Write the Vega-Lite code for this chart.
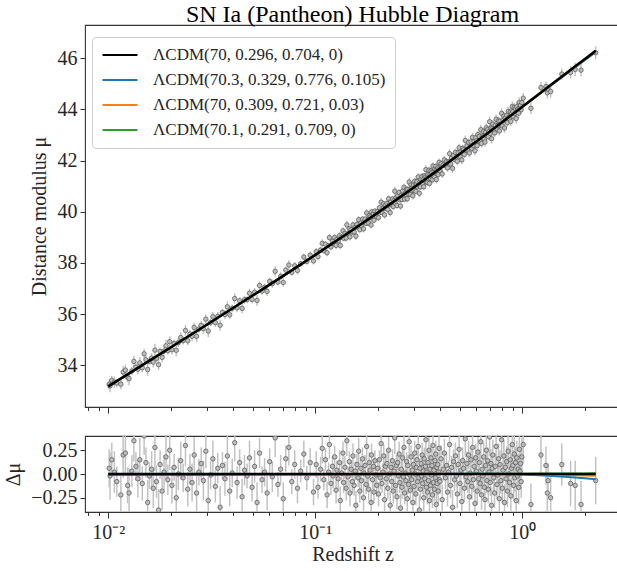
{
"$schema":"https://vega.github.io/schema/vega-lite/v6.json",
"background":"white",
"padding":{"left":3,"top":2,"right":0,"bottom":5},
"spacing":20,
"config":{
"font":"Liberation Serif",
"view":{"stroke":"#333333","strokeWidth":1.1},
"style":{"guide-label":{"font":"Liberation Serif"},"guide-title":{"font":"Liberation Serif"}},
"axis":{"labelFont":"Liberation Serif","titleFont":"Liberation Serif","labelFontSize":20,"titleFontSize":20,"labelColor":"#262626","titleColor":"#262626","titleFontWeight":"normal","tickColor":"#333333","domain":false,"grid":false,"tickSize":5,"labelPadding":3,"labelFlush":false,"labelOverlap":false}
},
"resolve":{"legend":{"color":"independent"}},
"datasets":{
"sn":[
{"z":0.0101,"m":33.257,"r":0.06,"e":0.2},{"z":0.0102,"m":33.199,"r":-0.02,"e":0.25},{"z":0.0104,"m":33.411,"r":0.15,"e":0.18},{"z":0.0107,"m":33.343,"r":0.02,"e":0.22},{"z":0.011,"m":33.304,"r":-0.08,"e":0.16},{"z":0.0115,"m":33.261,"r":-0.22,"e":0.2},{"z":0.0118,"m":33.738,"r":0.2,"e":0.24},{"z":0.0121,"m":33.813,"r":0.22,"e":0.21},{"z":0.0124,"m":33.527,"r":-0.12,"e":0.19},{"z":0.0126,"m":33.482,"r":-0.2,"e":0.26},
{"z":0.013,"m":33.78,"r":0.03,"e":0.17},{"z":0.0133,"m":34.15,"r":0.35,"e":0.22},{"z":0.0136,"m":33.929,"r":0.08,"e":0.15},{"z":0.0139,"m":33.847,"r":-0.05,"e":0.2},{"z":0.0142,"m":34.094,"r":0.15,"e":0.23},{"z":0.0146,"m":33.905,"r":-0.1,"e":0.18},{"z":0.0149,"m":34.45,"r":0.4,"e":0.2},{"z":0.0152,"m":34.213,"r":0.12,"e":0.16},{"z":0.0155,"m":33.836,"r":-0.3,"e":0.24},{"z":0.0158,"m":34.158,"r":-0.02,"e":0.14},
{"z":0.0162,"m":34.283,"r":0.05,"e":0.19},{"z":0.0165,"m":34.124,"r":-0.15,"e":0.21},{"z":0.0168,"m":34.593,"r":0.28,"e":0.25},{"z":0.0171,"m":34.272,"r":-0.08,"e":0.17},{"z":0.0175,"m":34.023,"r":-0.38,"e":0.22},{"z":0.0178,"m":34.54,"r":0.1,"e":0.15},{"z":0.0182,"m":34.309,"r":-0.18,"e":0.2},{"z":0.0186,"m":34.557,"r":0.02,"e":0.18},{"z":0.019,"m":34.764,"r":0.18,"e":0.23},{"z":0.0194,"m":34.57,"r":-0.06,"e":0.16},
{"z":0.0198,"m":34.925,"r":0.25,"e":0.21},{"z":0.0203,"m":34.61,"r":-0.12,"e":0.19},{"z":0.0208,"m":34.854,"r":0.07,"e":0.14},{"z":0.0213,"m":34.586,"r":-0.25,"e":0.24},{"z":0.0218,"m":34.887,"r":0.0,"e":0.17},{"z":0.0224,"m":35.087,"r":0.14,"e":0.2},{"z":0.023,"m":34.966,"r":-0.04,"e":0.15},{"z":0.0236,"m":35.362,"r":0.3,"e":0.22},{"z":0.0242,"m":34.958,"r":-0.16,"e":0.18},{"z":0.0248,"m":35.222,"r":0.05,"e":0.16},
{"z":0.0254,"m":35.135,"r":-0.09,"e":0.2},{"z":0.026,"m":35.477,"r":0.2,"e":0.19},{"z":0.0267,"m":35.135,"r":-0.2,"e":0.23},{"z":0.0274,"m":35.413,"r":0.02,"e":0.14},{"z":0.0281,"m":35.559,"r":0.11,"e":0.17},{"z":0.0288,"m":35.433,"r":-0.07,"e":0.21},{"z":0.0296,"m":35.804,"r":0.24,"e":0.18},{"z":0.0304,"m":35.343,"r":-0.28,"e":0.25},{"z":0.0312,"m":35.671,"r":-0.01,"e":0.15},{"z":0.032,"m":35.897,"r":0.16,"e":0.19},
{"z":0.0329,"m":35.669,"r":-0.13,"e":0.17},{"z":0.0338,"m":35.919,"r":0.06,"e":0.16},{"z":0.0347,"m":35.567,"r":-0.35,"e":0.22},{"z":0.0356,"m":36.065,"r":0.09,"e":0.14},{"z":0.0366,"m":35.986,"r":-0.05,"e":0.18},{"z":0.0376,"m":36.286,"r":0.19,"e":0.21},{"z":0.0386,"m":35.975,"r":-0.18,"e":0.16},{"z":0.0397,"m":36.228,"r":0.01,"e":0.15},{"z":0.0408,"m":36.609,"r":0.33,"e":0.2},{"z":0.0419,"m":36.248,"r":-0.09,"e":0.17},
{"z":0.0431,"m":36.522,"r":0.12,"e":0.14},{"z":0.0443,"m":36.223,"r":-0.24,"e":0.19},{"z":0.0455,"m":36.563,"r":0.04,"e":0.16},{"z":0.0468,"m":36.566,"r":-0.02,"e":0.13},{"z":0.0481,"m":36.818,"r":0.17,"e":0.18},{"z":0.0495,"m":36.573,"r":-0.14,"e":0.15},{"z":0.0509,"m":36.855,"r":0.08,"e":0.17},{"z":0.0523,"m":36.536,"r":-0.3,"e":0.21},{"z":0.0538,"m":37.12,"r":0.22,"e":0.16},{"z":0.0553,"m":36.902,"r":-0.06,"e":0.14},
{"z":0.0569,"m":37.047,"r":0.02,"e":0.15},{"z":0.0585,"m":36.889,"r":-0.2,"e":0.18},{"z":0.0602,"m":37.284,"r":0.13,"e":0.14},{"z":0.062,"m":37.191,"r":-0.03,"e":0.16},{"z":0.064,"m":37.673,"r":0.38,"e":0.2},{"z":0.066,"m":37.253,"r":-0.11,"e":0.13},{"z":0.068,"m":37.481,"r":0.05,"e":0.15},{"z":0.07,"m":37.237,"r":-0.26,"e":0.17},{"z":0.072,"m":37.721,"r":0.16,"e":0.14},{"z":0.0745,"m":37.919,"r":0.28,"e":0.19},
{"z":0.077,"m":37.634,"r":-0.08,"e":0.13},{"z":0.0795,"m":37.888,"r":0.1,"e":0.15},{"z":0.082,"m":37.708,"r":-0.15,"e":0.16},{"z":0.085,"m":37.971,"r":0.03,"e":0.12},{"z":0.088,"m":38.231,"r":0.21,"e":0.14},{"z":0.091,"m":38.058,"r":-0.04,"e":0.13},{"z":0.0945,"m":38.305,"r":0.12,"e":0.15},{"z":0.098,"m":38.079,"r":-0.19,"e":0.14},
{"z":0.101,"m":38.44,"r":0.1,"e":0.14},{"z":0.103,"m":38.246,"r":-0.14,"e":0.12},{"z":0.106,"m":38.502,"r":0.05,"e":0.13},{"z":0.108,"m":38.766,"r":0.27,"e":0.16},{"z":0.11,"m":38.478,"r":-0.06,"e":0.11},{"z":0.112,"m":38.73,"r":0.15,"e":0.12},{"z":0.114,"m":38.401,"r":-0.22,"e":0.14},{"z":0.116,"m":38.682,"r":0.02,"e":0.1},{"z":0.117,"m":38.992,"r":0.31,"e":0.15},{"z":0.119,"m":38.622,"r":-0.1,"e":0.12},
{"z":0.121,"m":38.841,"r":0.08,"e":0.11},{"z":0.122,"m":38.76,"r":-0.02,"e":0.13},{"z":0.124,"m":38.998,"r":0.18,"e":0.12},{"z":0.126,"m":38.686,"r":-0.17,"e":0.14},{"z":0.127,"m":38.915,"r":0.04,"e":0.1},{"z":0.129,"m":38.861,"r":-0.05,"e":0.11},{"z":0.131,"m":39.067,"r":0.12,"e":0.13},{"z":0.132,"m":38.685,"r":-0.28,"e":0.15},{"z":0.134,"m":39.001,"r":0.01,"e":0.1},{"z":0.136,"m":39.256,"r":0.22,"e":0.12},
{"z":0.137,"m":38.963,"r":-0.09,"e":0.11},{"z":0.139,"m":39.157,"r":0.07,"e":0.12},{"z":0.141,"m":38.971,"r":-0.15,"e":0.13},{"z":0.142,"m":39.488,"r":0.35,"e":0.16},{"z":0.144,"m":39.141,"r":-0.03,"e":0.1},{"z":0.146,"m":39.333,"r":0.13,"e":0.11},{"z":0.147,"m":39.02,"r":-0.2,"e":0.14},{"z":0.149,"m":39.302,"r":0.05,"e":0.09},{"z":0.151,"m":39.204,"r":-0.08,"e":0.12},{"z":0.152,"m":39.489,"r":0.19,"e":0.13},
{"z":0.154,"m":39.21,"r":-0.12,"e":0.11},{"z":0.156,"m":39.391,"r":0.03,"e":0.1},{"z":0.157,"m":39.046,"r":-0.33,"e":0.15},{"z":0.159,"m":39.507,"r":0.1,"e":0.11},{"z":0.161,"m":39.396,"r":-0.04,"e":0.1},{"z":0.162,"m":39.691,"r":0.24,"e":0.14},{"z":0.164,"m":39.3,"r":-0.18,"e":0.12},{"z":0.166,"m":39.569,"r":0.06,"e":0.09},{"z":0.167,"m":39.454,"r":-0.07,"e":0.11},{"z":0.169,"m":39.712,"r":0.16,"e":0.12},
{"z":0.171,"m":39.331,"r":-0.25,"e":0.14},{"z":0.172,"m":39.595,"r":0.01,"e":0.1},{"z":0.174,"m":39.712,"r":0.09,"e":0.11},{"z":0.176,"m":39.54,"r":-0.11,"e":0.1},{"z":0.177,"m":39.953,"r":0.29,"e":0.15},{"z":0.179,"m":39.67,"r":-0.02,"e":0.09},{"z":0.181,"m":39.557,"r":-0.16,"e":0.12},{"z":0.182,"m":39.851,"r":0.12,"e":0.11},{"z":0.184,"m":39.797,"r":0.04,"e":0.1},{"z":0.186,"m":39.483,"r":-0.3,"e":0.14},
{"z":0.187,"m":39.996,"r":0.2,"e":0.12},{"z":0.189,"m":39.761,"r":-0.06,"e":0.1},{"z":0.191,"m":39.927,"r":0.08,"e":0.09},{"z":0.192,"m":39.67,"r":-0.19,"e":0.12},{"z":0.194,"m":40.025,"r":0.14,"e":0.11},{"z":0.196,"m":39.899,"r":-0.01,"e":0.1},{"z":0.198,"m":39.814,"r":-0.12,"e":0.12},
{"z":0.2,"m":40.018,"r":0.06,"e":0.11},{"z":0.202,"m":39.772,"r":-0.21,"e":0.13},{"z":0.204,"m":40.156,"r":0.15,"e":0.1},{"z":0.206,"m":39.991,"r":-0.04,"e":0.12},{"z":0.208,"m":40.375,"r":0.32,"e":0.16},{"z":0.21,"m":39.977,"r":-0.1,"e":0.1},{"z":0.212,"m":40.12,"r":0.02,"e":0.09},{"z":0.214,"m":40.313,"r":0.19,"e":0.12},{"z":0.216,"m":39.877,"r":-0.27,"e":0.14},{"z":0.218,"m":40.25,"r":0.08,"e":0.11},
{"z":0.22,"m":40.14,"r":-0.05,"e":0.1},{"z":0.222,"m":40.323,"r":0.11,"e":0.12},{"z":0.224,"m":40.085,"r":-0.15,"e":0.11},{"z":0.226,"m":40.507,"r":0.25,"e":0.14},{"z":0.228,"m":40.279,"r":0.0,"e":0.09},{"z":0.23,"m":39.969,"r":-0.33,"e":0.15},{"z":0.232,"m":40.391,"r":0.07,"e":0.1},{"z":0.234,"m":40.262,"r":-0.08,"e":0.11},{"z":0.236,"m":40.503,"r":0.14,"e":0.12},{"z":0.238,"m":40.205,"r":-0.18,"e":0.13},
{"z":0.24,"m":40.434,"r":0.03,"e":0.09},{"z":0.242,"m":40.804,"r":0.38,"e":0.17},{"z":0.244,"m":40.325,"r":-0.12,"e":0.1},{"z":0.246,"m":40.556,"r":0.09,"e":0.11},{"z":0.248,"m":40.246,"r":-0.24,"e":0.13},{"z":0.25,"m":40.624,"r":0.12,"e":0.1},{"z":0.252,"m":40.504,"r":-0.02,"e":0.09},{"z":0.254,"m":40.754,"r":0.21,"e":0.13},{"z":0.256,"m":40.474,"r":-0.09,"e":0.11},{"z":0.258,"m":40.224,"r":-0.36,"e":0.15},
{"z":0.26,"m":40.651,"r":0.05,"e":0.1},{"z":0.262,"m":40.48,"r":-0.14,"e":0.12},{"z":0.264,"m":40.81,"r":0.17,"e":0.11},{"z":0.266,"m":40.629,"r":-0.03,"e":0.09},{"z":0.268,"m":40.958,"r":0.28,"e":0.14},{"z":0.27,"m":40.495,"r":-0.2,"e":0.12},{"z":0.272,"m":40.723,"r":0.01,"e":0.1},{"z":0.274,"m":40.662,"r":-0.07,"e":0.11},{"z":0.276,"m":40.88,"r":0.13,"e":0.1},{"z":0.278,"m":40.508,"r":-0.26,"e":0.14},
{"z":0.28,"m":40.875,"r":0.09,"e":0.11},{"z":0.282,"m":40.693,"r":-0.11,"e":0.1},{"z":0.284,"m":41.161,"r":0.34,"e":0.16},{"z":0.286,"m":40.829,"r":-0.01,"e":0.09},{"z":0.288,"m":40.686,"r":-0.17,"e":0.12},{"z":0.29,"m":41.053,"r":0.18,"e":0.12},{"z":0.292,"m":40.83,"r":-0.06,"e":0.1},{"z":0.294,"m":40.947,"r":0.04,"e":0.09},{"z":0.296,"m":40.624,"r":-0.3,"e":0.15},{"z":0.298,"m":41.041,"r":0.1,"e":0.11},
{"z":0.3,"m":40.827,"r":-0.13,"e":0.11},{"z":0.302,"m":41.194,"r":0.22,"e":0.13},{"z":0.304,"m":40.991,"r":0.0,"e":0.1},{"z":0.306,"m":40.798,"r":-0.21,"e":0.12},{"z":0.308,"m":41.095,"r":0.07,"e":0.09},{"z":0.31,"m":41.189,"r":0.15,"e":0.12},{"z":0.312,"m":40.976,"r":-0.08,"e":0.1},{"z":0.314,"m":41.362,"r":0.29,"e":0.15},{"z":0.316,"m":41.048,"r":-0.04,"e":0.11},{"z":0.318,"m":40.724,"r":-0.38,"e":0.16},
{"z":0.32,"m":41.179,"r":0.06,"e":0.1},{"z":0.322,"m":40.975,"r":-0.16,"e":0.12},{"z":0.324,"m":41.261,"r":0.11,"e":0.11},{"z":0.326,"m":41.147,"r":-0.02,"e":0.09},{"z":0.328,"m":41.382,"r":0.2,"e":0.13},{"z":0.33,"m":41.097,"r":-0.1,"e":0.11},{"z":0.332,"m":41.242,"r":0.03,"e":0.1},{"z":0.334,"m":40.977,"r":-0.25,"e":0.14},{"z":0.336,"m":41.403,"r":0.16,"e":0.12},{"z":0.338,"m":41.208,"r":-0.05,"e":0.1},
{"z":0.34,"m":41.352,"r":0.08,"e":0.11},{"z":0.342,"m":41.647,"r":0.36,"e":0.17},{"z":0.344,"m":41.162,"r":-0.14,"e":0.12},{"z":0.346,"m":41.337,"r":0.02,"e":0.1},{"z":0.348,"m":41.142,"r":-0.19,"e":0.13},{"z":0.35,"m":41.465,"r":0.12,"e":0.12},{"z":0.352,"m":41.29,"r":-0.07,"e":0.1},{"z":0.354,"m":41.624,"r":0.25,"e":0.14},{"z":0.356,"m":41.109,"r":-0.28,"e":0.15},{"z":0.358,"m":41.454,"r":0.05,"e":0.11},
{"z":0.36,"m":41.297,"r":-0.12,"e":0.12},{"z":0.362,"m":41.601,"r":0.17,"e":0.13},{"z":0.364,"m":41.435,"r":-0.01,"e":0.1},{"z":0.366,"m":41.549,"r":0.09,"e":0.11},{"z":0.368,"m":41.253,"r":-0.22,"e":0.14},{"z":0.37,"m":41.786,"r":0.3,"e":0.15},{"z":0.372,"m":41.41,"r":-0.09,"e":0.11},{"z":0.374,"m":41.554,"r":0.04,"e":0.1},{"z":0.376,"m":41.367,"r":-0.16,"e":0.13},{"z":0.378,"m":41.681,"r":0.14,"e":0.12},
{"z":0.38,"m":41.514,"r":-0.04,"e":0.11},{"z":0.382,"m":41.777,"r":0.21,"e":0.14},{"z":0.384,"m":41.261,"r":-0.32,"e":0.16},{"z":0.386,"m":41.665,"r":0.07,"e":0.11},{"z":0.388,"m":41.508,"r":-0.1,"e":0.12},{"z":0.39,"m":41.72,"r":0.1,"e":0.12},{"z":0.392,"m":41.453,"r":-0.18,"e":0.13},{"z":0.394,"m":41.666,"r":0.02,"e":0.1},{"z":0.396,"m":41.93,"r":0.27,"e":0.15},{"z":0.398,"m":41.613,"r":-0.06,"e":0.11},
{"z":0.4,"m":41.607,"r":-0.08,"e":0.13},{"z":0.405,"m":41.878,"r":0.16,"e":0.14},{"z":0.41,"m":41.48,"r":-0.27,"e":0.16},{"z":0.415,"m":41.831,"r":0.05,"e":0.12},{"z":0.42,"m":42.032,"r":0.22,"e":0.15},{"z":0.425,"m":41.803,"r":-0.04,"e":0.12},{"z":0.43,"m":41.963,"r":0.09,"e":0.13},{"z":0.435,"m":41.714,"r":-0.19,"e":0.15},{"z":0.44,"m":41.952,"r":0.02,"e":0.12},{"z":0.445,"m":42.272,"r":0.31,"e":0.17},
{"z":0.45,"m":41.871,"r":-0.12,"e":0.13},{"z":0.455,"m":42.091,"r":0.07,"e":0.12},{"z":0.46,"m":41.698,"r":-0.35,"e":0.18},{"z":0.465,"m":42.206,"r":0.13,"e":0.13},{"z":0.47,"m":42.044,"r":-0.06,"e":0.12},{"z":0.475,"m":42.322,"r":0.19,"e":0.14},{"z":0.48,"m":42.138,"r":-0.02,"e":0.12},{"z":0.485,"m":41.975,"r":-0.21,"e":0.15},{"z":0.49,"m":42.312,"r":0.1,"e":0.13},{"z":0.495,"m":42.499,"r":0.26,"e":0.16},
{"z":0.5,"m":42.164,"r":-0.1,"e":0.13},{"z":0.505,"m":42.33,"r":0.04,"e":0.12},{"z":0.51,"m":42.026,"r":-0.29,"e":0.17},{"z":0.515,"m":42.482,"r":0.14,"e":0.14},{"z":0.52,"m":42.427,"r":0.06,"e":0.12},{"z":0.525,"m":42.242,"r":-0.15,"e":0.14},{"z":0.53,"m":42.787,"r":0.37,"e":0.19},{"z":0.535,"m":42.412,"r":-0.03,"e":0.12},{"z":0.54,"m":42.575,"r":0.11,"e":0.13},{"z":0.545,"m":42.409,"r":-0.08,"e":0.12},
{"z":0.55,"m":42.713,"r":0.2,"e":0.15},{"z":0.555,"m":42.297,"r":-0.24,"e":0.16},{"z":0.56,"m":42.561,"r":0.01,"e":0.12},{"z":0.565,"m":42.734,"r":0.15,"e":0.14},{"z":0.57,"m":42.477,"r":-0.13,"e":0.14},{"z":0.575,"m":42.91,"r":0.28,"e":0.17},{"z":0.58,"m":42.593,"r":-0.06,"e":0.13},{"z":0.585,"m":42.756,"r":0.08,"e":0.12},{"z":0.59,"m":42.388,"r":-0.31,"e":0.18},{"z":0.595,"m":42.891,"r":0.17,"e":0.15},
{"z":0.6,"m":42.773,"r":0.03,"e":0.12},{"z":0.605,"m":42.584,"r":-0.18,"e":0.15},{"z":0.61,"m":43.016,"r":0.23,"e":0.16},{"z":0.615,"m":42.757,"r":-0.05,"e":0.13},{"z":0.62,"m":42.949,"r":0.12,"e":0.14},{"z":0.625,"m":42.75,"r":-0.1,"e":0.13},{"z":0.63,"m":43.211,"r":0.34,"e":0.19},{"z":0.635,"m":42.672,"r":-0.22,"e":0.16},{"z":0.64,"m":42.963,"r":0.05,"e":0.13},{"z":0.645,"m":42.914,"r":-0.02,"e":0.12},
{"z":0.65,"m":43.134,"r":0.18,"e":0.15},{"z":0.655,"m":42.835,"r":-0.14,"e":0.14},{"z":0.66,"m":42.725,"r":-0.27,"e":0.17},{"z":0.665,"m":43.104,"r":0.09,"e":0.13},{"z":0.67,"m":43.284,"r":0.25,"e":0.17},{"z":0.675,"m":42.984,"r":-0.07,"e":0.13},{"z":0.68,"m":43.214,"r":0.14,"e":0.14},{"z":0.685,"m":42.933,"r":-0.16,"e":0.15},{"z":0.69,"m":43.133,"r":0.02,"e":0.12},{"z":0.695,"m":43.522,"r":0.39,"e":0.2},
{"z":0.7,"m":43.061,"r":-0.09,"e":0.14},{"z":0.705,"m":43.279,"r":0.11,"e":0.15},{"z":0.71,"m":42.858,"r":-0.33,"e":0.19},{"z":0.715,"m":43.266,"r":0.06,"e":0.13},{"z":0.72,"m":43.426,"r":0.2,"e":0.16},{"z":0.727,"m":43.211,"r":-0.04,"e":0.14},{"z":0.734,"m":43.076,"r":-0.2,"e":0.16},{"z":0.74,"m":43.379,"r":0.08,"e":0.14},{"z":0.747,"m":43.614,"r":0.29,"e":0.18},{"z":0.754,"m":43.239,"r":-0.11,"e":0.15},
{"z":0.76,"m":43.36,"r":-0.01,"e":0.13},{"z":0.767,"m":43.554,"r":0.16,"e":0.16},{"z":0.774,"m":43.159,"r":-0.26,"e":0.18},{"z":0.78,"m":43.539,"r":0.1,"e":0.15},{"z":0.787,"m":43.393,"r":-0.07,"e":0.14},{"z":0.794,"m":43.847,"r":0.36,"e":0.2},{"z":0.8,"m":43.357,"r":-0.15,"e":0.16},{"z":0.807,"m":43.57,"r":0.04,"e":0.14},{"z":0.814,"m":43.743,"r":0.19,"e":0.17},{"z":0.82,"m":43.273,"r":-0.3,"e":0.19},
{"z":0.827,"m":43.665,"r":0.07,"e":0.15},{"z":0.834,"m":43.568,"r":-0.05,"e":0.14},{"z":0.84,"m":43.767,"r":0.13,"e":0.16},{"z":0.847,"m":43.48,"r":-0.18,"e":0.17},{"z":0.854,"m":43.922,"r":0.24,"e":0.18},{"z":0.86,"m":43.7,"r":0.0,"e":0.14},{"z":0.867,"m":43.632,"r":-0.09,"e":0.15},{"z":0.874,"m":43.894,"r":0.15,"e":0.17},{"z":0.88,"m":43.532,"r":-0.23,"e":0.18},{"z":0.887,"m":43.843,"r":0.06,"e":0.15},
{"z":0.894,"m":44.114,"r":0.31,"e":0.2},{"z":0.9,"m":43.913,"r":0.09,"e":0.16},{"z":0.907,"m":43.723,"r":-0.12,"e":0.16},{"z":0.914,"m":44.073,"r":0.21,"e":0.19},{"z":0.92,"m":43.841,"r":-0.04,"e":0.15},{"z":0.927,"m":44.021,"r":0.12,"e":0.17},{"z":0.934,"m":43.642,"r":-0.28,"e":0.2},{"z":0.94,"m":44.108,"r":0.17,"e":0.18},{"z":0.947,"m":43.937,"r":-0.02,"e":0.15},{"z":0.954,"m":44.027,"r":0.05,"e":0.16},
{"z":0.96,"m":43.855,"r":-0.14,"e":0.18},{"z":0.967,"m":44.275,"r":0.26,"e":0.2},{"z":0.974,"m":44.064,"r":0.03,"e":0.16},{"z":0.98,"m":44.161,"r":0.11,"e":0.18},{"z":0.987,"m":43.99,"r":-0.08,"e":0.17},{"z":0.994,"m":44.269,"r":0.18,"e":0.2},
{"z":1.01,"m":44.441,"r":0.31,"e":0.2},{"z":1.1,"m":44.042,"r":-0.32,"e":0.22},{"z":1.23,"m":44.858,"r":0.2,"e":0.22},{"z":1.3,"m":44.896,"r":0.09,"e":0.2},{"z":1.32,"m":44.648,"r":-0.2,"e":0.22},{"z":1.33,"m":44.798,"r":-0.07,"e":0.18},{"z":1.37,"m":44.7,"r":-0.25,"e":0.24},{"z":1.55,"m":45.382,"r":0.1,"e":0.22},{"z":1.71,"m":45.445,"r":-0.1,"e":0.24},{"z":1.8,"m":45.564,"r":-0.12,"e":0.26},{"z":1.92,"m":45.536,"r":-0.32,"e":0.25},{"z":2.26,"m":46.219,"r":-0.07,"e":0.25}
],
"models":[
{"model":"ΛCDM(70, 0.296, 0.704, 0)","z":0.01,"m":33.175,"r":0},{"model":"ΛCDM(70, 0.296, 0.704, 0)","z":0.015,"m":34.064,"r":0},{"model":"ΛCDM(70, 0.296, 0.704, 0)","z":0.02,"m":34.697,"r":0},{"model":"ΛCDM(70, 0.296, 0.704, 0)","z":0.03,"m":35.594,"r":0},{"model":"ΛCDM(70, 0.296, 0.704, 0)","z":0.05,"m":36.735,"r":0},{"model":"ΛCDM(70, 0.296, 0.704, 0)","z":0.07,"m":37.496,"r":0},{"model":"ΛCDM(70, 0.296, 0.704, 0)","z":0.1,"m":38.316,"r":0},{"model":"ΛCDM(70, 0.296, 0.704, 0)","z":0.15,"m":39.267,"r":0},{"model":"ΛCDM(70, 0.296, 0.704, 0)","z":0.2,"m":39.958,"r":0},{"model":"ΛCDM(70, 0.296, 0.704, 0)","z":0.3,"m":40.957,"r":0},{"model":"ΛCDM(70, 0.296, 0.704, 0)","z":0.4,"m":41.687,"r":0},
{"model":"ΛCDM(70, 0.296, 0.704, 0)","z":0.5,"m":42.264,"r":0},{"model":"ΛCDM(70, 0.296, 0.704, 0)","z":0.6,"m":42.743,"r":0},{"model":"ΛCDM(70, 0.296, 0.704, 0)","z":0.7,"m":43.151,"r":0},{"model":"ΛCDM(70, 0.296, 0.704, 0)","z":0.8,"m":43.507,"r":0},{"model":"ΛCDM(70, 0.296, 0.704, 0)","z":1.0,"m":44.105,"r":0},{"model":"ΛCDM(70, 0.296, 0.704, 0)","z":1.2,"m":44.596,"r":0},{"model":"ΛCDM(70, 0.296, 0.704, 0)","z":1.4,"m":45.01,"r":0},{"model":"ΛCDM(70, 0.296, 0.704, 0)","z":1.6,"m":45.369,"r":0},{"model":"ΛCDM(70, 0.296, 0.704, 0)","z":1.8,"m":45.684,"r":0},{"model":"ΛCDM(70, 0.296, 0.704, 0)","z":2.0,"m":45.965,"r":0},{"model":"ΛCDM(70, 0.296, 0.704, 0)","z":2.26,"m":46.289,"r":0},
{"model":"ΛCDM(70.3, 0.329, 0.776, 0.105)","z":0.01,"m":33.166,"r":-0.0087},{"model":"ΛCDM(70.3, 0.329, 0.776, 0.105)","z":0.015,"m":34.056,"r":-0.0084},{"model":"ΛCDM(70.3, 0.329, 0.776, 0.105)","z":0.02,"m":34.689,"r":-0.0081},{"model":"ΛCDM(70.3, 0.329, 0.776, 0.105)","z":0.03,"m":35.586,"r":-0.0075},{"model":"ΛCDM(70.3, 0.329, 0.776, 0.105)","z":0.05,"m":36.729,"r":-0.0063},{"model":"ΛCDM(70.3, 0.329, 0.776, 0.105)","z":0.07,"m":37.491,"r":-0.0051},{"model":"ΛCDM(70.3, 0.329, 0.776, 0.105)","z":0.1,"m":38.312,"r":-0.004},{"model":"ΛCDM(70.3, 0.329, 0.776, 0.105)","z":0.15,"m":39.265,"r":-0.002},{"model":"ΛCDM(70.3, 0.329, 0.776, 0.105)","z":0.2,"m":39.958,"r":-0.0001},{"model":"ΛCDM(70.3, 0.329, 0.776, 0.105)","z":0.3,"m":40.959,"r":0.0024},{"model":"ΛCDM(70.3, 0.329, 0.776, 0.105)","z":0.4,"m":41.691,"r":0.0037},
{"model":"ΛCDM(70.3, 0.329, 0.776, 0.105)","z":0.5,"m":42.268,"r":0.0039},{"model":"ΛCDM(70.3, 0.329, 0.776, 0.105)","z":0.6,"m":42.746,"r":0.0031},{"model":"ΛCDM(70.3, 0.329, 0.776, 0.105)","z":0.7,"m":43.153,"r":0.0017},{"model":"ΛCDM(70.3, 0.329, 0.776, 0.105)","z":0.8,"m":43.506,"r":-0.0005},{"model":"ΛCDM(70.3, 0.329, 0.776, 0.105)","z":1.0,"m":44.099,"r":-0.0061},{"model":"ΛCDM(70.3, 0.329, 0.776, 0.105)","z":1.2,"m":44.583,"r":-0.013},{"model":"ΛCDM(70.3, 0.329, 0.776, 0.105)","z":1.4,"m":44.989,"r":-0.0206},{"model":"ΛCDM(70.3, 0.329, 0.776, 0.105)","z":1.6,"m":45.341,"r":-0.0284},{"model":"ΛCDM(70.3, 0.329, 0.776, 0.105)","z":1.8,"m":45.648,"r":-0.0364},{"model":"ΛCDM(70.3, 0.329, 0.776, 0.105)","z":2.0,"m":45.921,"r":-0.0442},{"model":"ΛCDM(70.3, 0.329, 0.776, 0.105)","z":2.26,"m":46.235,"r":-0.0541},
{"model":"ΛCDM(70, 0.309, 0.721, 0.03)","z":0.01,"m":33.175,"r":0.0001},{"model":"ΛCDM(70, 0.309, 0.721, 0.03)","z":0.015,"m":34.064,"r":0.0002},{"model":"ΛCDM(70, 0.309, 0.721, 0.03)","z":0.02,"m":34.697,"r":0.0002},{"model":"ΛCDM(70, 0.309, 0.721, 0.03)","z":0.03,"m":35.594,"r":0.0003},{"model":"ΛCDM(70, 0.309, 0.721, 0.03)","z":0.05,"m":36.736,"r":0.0006},{"model":"ΛCDM(70, 0.309, 0.721, 0.03)","z":0.07,"m":37.497,"r":0.0008},{"model":"ΛCDM(70, 0.309, 0.721, 0.03)","z":0.1,"m":38.317,"r":0.0009},{"model":"ΛCDM(70, 0.309, 0.721, 0.03)","z":0.15,"m":39.268,"r":0.0012},{"model":"ΛCDM(70, 0.309, 0.721, 0.03)","z":0.2,"m":39.96,"r":0.0015},{"model":"ΛCDM(70, 0.309, 0.721, 0.03)","z":0.3,"m":40.959,"r":0.0016},{"model":"ΛCDM(70, 0.309, 0.721, 0.03)","z":0.4,"m":41.689,"r":0.0015},
{"model":"ΛCDM(70, 0.309, 0.721, 0.03)","z":0.5,"m":42.265,"r":0.001},{"model":"ΛCDM(70, 0.309, 0.721, 0.03)","z":0.6,"m":42.743,"r":0.0004},{"model":"ΛCDM(70, 0.309, 0.721, 0.03)","z":0.7,"m":43.151,"r":-0.0005},{"model":"ΛCDM(70, 0.309, 0.721, 0.03)","z":0.8,"m":43.506,"r":-0.0014},{"model":"ΛCDM(70, 0.309, 0.721, 0.03)","z":1.0,"m":44.101,"r":-0.0037},{"model":"ΛCDM(70, 0.309, 0.721, 0.03)","z":1.2,"m":44.59,"r":-0.0062},{"model":"ΛCDM(70, 0.309, 0.721, 0.03)","z":1.4,"m":45.001,"r":-0.0087},{"model":"ΛCDM(70, 0.309, 0.721, 0.03)","z":1.6,"m":45.358,"r":-0.0113},{"model":"ΛCDM(70, 0.309, 0.721, 0.03)","z":1.8,"m":45.67,"r":-0.0139},{"model":"ΛCDM(70, 0.309, 0.721, 0.03)","z":2.0,"m":45.949,"r":-0.0164},{"model":"ΛCDM(70, 0.309, 0.721, 0.03)","z":2.26,"m":46.27,"r":-0.0195},
{"model":"ΛCDM(70.1, 0.291, 0.709, 0)","z":0.01,"m":33.172,"r":-0.003},{"model":"ΛCDM(70.1, 0.291, 0.709, 0)","z":0.015,"m":34.061,"r":-0.003},{"model":"ΛCDM(70.1, 0.291, 0.709, 0)","z":0.02,"m":34.694,"r":-0.003},{"model":"ΛCDM(70.1, 0.291, 0.709, 0)","z":0.03,"m":35.591,"r":-0.0029},{"model":"ΛCDM(70.1, 0.291, 0.709, 0)","z":0.05,"m":36.732,"r":-0.0027},{"model":"ΛCDM(70.1, 0.291, 0.709, 0)","z":0.07,"m":37.494,"r":-0.0025},{"model":"ΛCDM(70.1, 0.291, 0.709, 0)","z":0.1,"m":38.314,"r":-0.0023},{"model":"ΛCDM(70.1, 0.291, 0.709, 0)","z":0.15,"m":39.265,"r":-0.0019},{"model":"ΛCDM(70.1, 0.291, 0.709, 0)","z":0.2,"m":39.957,"r":-0.0015},{"model":"ΛCDM(70.1, 0.291, 0.709, 0)","z":0.3,"m":40.956,"r":-0.0007},{"model":"ΛCDM(70.1, 0.291, 0.709, 0)","z":0.4,"m":41.687,"r":0.0},
{"model":"ΛCDM(70.1, 0.291, 0.709, 0)","z":0.5,"m":42.265,"r":0.0007},{"model":"ΛCDM(70.1, 0.291, 0.709, 0)","z":0.6,"m":42.744,"r":0.0014},{"model":"ΛCDM(70.1, 0.291, 0.709, 0)","z":0.7,"m":43.153,"r":0.002},{"model":"ΛCDM(70.1, 0.291, 0.709, 0)","z":0.8,"m":43.51,"r":0.0025},{"model":"ΛCDM(70.1, 0.291, 0.709, 0)","z":1.0,"m":44.109,"r":0.0035},{"model":"ΛCDM(70.1, 0.291, 0.709, 0)","z":1.2,"m":44.6,"r":0.0043},{"model":"ΛCDM(70.1, 0.291, 0.709, 0)","z":1.4,"m":45.015,"r":0.0049},{"model":"ΛCDM(70.1, 0.291, 0.709, 0)","z":1.6,"m":45.375,"r":0.0055},{"model":"ΛCDM(70.1, 0.291, 0.709, 0)","z":1.8,"m":45.69,"r":0.006},{"model":"ΛCDM(70.1, 0.291, 0.709, 0)","z":2.0,"m":45.971,"r":0.0064},{"model":"ΛCDM(70.1, 0.291, 0.709, 0)","z":2.26,"m":46.296,"r":0.0069}
]
},
"vconcat":[
{
"width":535,"height":382,
"title":{"text":"SN Ia (Pantheon) Hubble Diagram","anchor":"middle","frame":"group","fontSize":24,"font":"Liberation Serif","fontWeight":"normal","color":"#000000","offset":-2},
"encoding":{
"x":{"field":"z","type":"quantitative","scale":{"type":"log","domain":[0.00772,2.962],"nice":false},
"axis":{"labels":false,"title":null,"values":[0.008,0.009,0.01,0.02,0.03,0.04,0.05,0.06,0.07,0.08,0.09,0.1,0.2,0.3,0.4,0.5,0.6,0.7,0.8,0.9,1,2],"tickSize":{"condition":{"test":"datum.value === 0.01 || datum.value === 0.1 || datum.value === 1","value":6},"value":3.5}}},
"y":{"field":"m","type":"quantitative","scale":{"domain":[32.37,47.3],"nice":false,"zero":false},"axis":{"title":"Distance modulus μ","values":[34,36,38,40,42,44,46],"titlePadding":8,"labelFont":"Liberation Serif","titleFont":"Liberation Serif","labelFontSize":20,"titleFontSize":20}}
},
"layer":[
{"data":{"name":"sn"},"mark":{"type":"errorbar","color":"#c2c2c2","thickness":1.5,"clip":true},"encoding":{"yError":{"field":"e"}}},
{"data":{"name":"sn"},"mark":{"type":"point","shape":"circle","filled":true,"color":"#bdbdbd","stroke":"#505050","strokeWidth":0.7,"size":20,"opacity":1,"clip":true}},
{"data":{"name":"models"},"transform":[{"filter":"datum.model != 'ΛCDM(70, 0.296, 0.704, 0)'"}],"mark":{"type":"line","strokeWidth":2,"clip":true},
"encoding":{"color":{"field":"model","type":"nominal","scale":{"domain":["ΛCDM(70, 0.296, 0.704, 0)","ΛCDM(70.3, 0.329, 0.776, 0.105)","ΛCDM(70, 0.309, 0.721, 0.03)","ΛCDM(70.1, 0.291, 0.709, 0)"],"range":["#000000","#1f77b4","#ff7f0e","#2ca02c"]},
"legend":{"orient":"none","legendX":7,"legendY":12,"title":null,"symbolType":"stroke","symbolSize":1225,"symbolStrokeWidth":2.2,"labelFontSize":17,"labelFont":"Liberation Serif","labelColor":"#262626","fillColor":"#ffffff","strokeColor":"#cccccc","cornerRadius":4,"padding":9,"rowPadding":7,"clipHeight":18,"labelOffset":14,"labelLimit":400}}}},
{"data":{"name":"models"},"transform":[{"filter":"datum.model == 'ΛCDM(70, 0.296, 0.704, 0)'"}],"mark":{"type":"line","strokeWidth":2.5,"clip":true},
"encoding":{"color":{"field":"model","type":"nominal","scale":{"domain":["ΛCDM(70, 0.296, 0.704, 0)","ΛCDM(70.3, 0.329, 0.776, 0.105)","ΛCDM(70, 0.309, 0.721, 0.03)","ΛCDM(70.1, 0.291, 0.709, 0)"],"range":["#000000","#1f77b4","#ff7f0e","#2ca02c"]},
"legend":{"orient":"none","legendX":7,"legendY":12,"title":null,"symbolType":"stroke","symbolSize":1225,"symbolStrokeWidth":2.2,"labelFontSize":17,"labelFont":"Liberation Serif","labelColor":"#262626","fillColor":"#ffffff","strokeColor":"#cccccc","cornerRadius":4,"padding":9,"rowPadding":7,"clipHeight":18,"labelOffset":14,"labelLimit":400}}}}
]
},
{
"width":535,"height":76,
"encoding":{
"x":{"field":"z","type":"quantitative","scale":{"type":"log","domain":[0.00772,2.962],"nice":false},
"axis":{"title":"Redshift z","values":[0.008,0.009,0.01,0.02,0.03,0.04,0.05,0.06,0.07,0.08,0.09,0.1,0.2,0.3,0.4,0.5,0.6,0.7,0.8,0.9,1,2],"labelExpr":"datum.value === 0.01 ? '10⁻²' : datum.value === 0.1 ? '10⁻¹' : datum.value === 1 ? '10⁰' : ''","tickSize":{"condition":{"test":"datum.value === 0.01 || datum.value === 0.1 || datum.value === 1","value":6},"value":3.5},"labelPadding":4,"titlePadding":2,"labelFont":"Liberation Serif","titleFont":"Liberation Serif","labelFontSize":20,"titleFontSize":20}},
"y":{"field":"r","type":"quantitative","scale":{"domain":[-0.4,0.4],"nice":false,"zero":false},"axis":{"title":"Δμ","values":[-0.25,0,0.25],"format":".2f","titlePadding":7,"labelFont":"Liberation Serif","titleFont":"Liberation Serif","labelFontSize":20,"titleFontSize":20}}
},
"layer":[
{"data":{"name":"sn"},"mark":{"type":"errorbar","color":"#c2c2c2","thickness":1.5,"clip":true},"encoding":{"yError":{"field":"e"}}},
{"data":{"name":"sn"},"mark":{"type":"point","shape":"circle","filled":true,"color":"#bdbdbd","stroke":"#505050","strokeWidth":0.7,"size":20,"opacity":1,"clip":true}},
{"data":{"name":"models"},"transform":[{"filter":"datum.model != 'ΛCDM(70, 0.296, 0.704, 0)'"}],"mark":{"type":"line","strokeWidth":2,"clip":true},
"encoding":{"color":{"field":"model","type":"nominal","scale":{"domain":["ΛCDM(70, 0.296, 0.704, 0)","ΛCDM(70.3, 0.329, 0.776, 0.105)","ΛCDM(70, 0.309, 0.721, 0.03)","ΛCDM(70.1, 0.291, 0.709, 0)"],"range":["#000000","#1f77b4","#ff7f0e","#2ca02c"]},"legend":null}}},
{"data":{"name":"models"},"transform":[{"filter":"datum.model == 'ΛCDM(70, 0.296, 0.704, 0)'"}],"mark":{"type":"line","strokeWidth":2.5,"clip":true},
"encoding":{"color":{"field":"model","type":"nominal","scale":{"domain":["ΛCDM(70, 0.296, 0.704, 0)","ΛCDM(70.3, 0.329, 0.776, 0.105)","ΛCDM(70, 0.309, 0.721, 0.03)","ΛCDM(70.1, 0.291, 0.709, 0)"],"range":["#000000","#1f77b4","#ff7f0e","#2ca02c"]},"legend":null}}}
]
}
]
}
